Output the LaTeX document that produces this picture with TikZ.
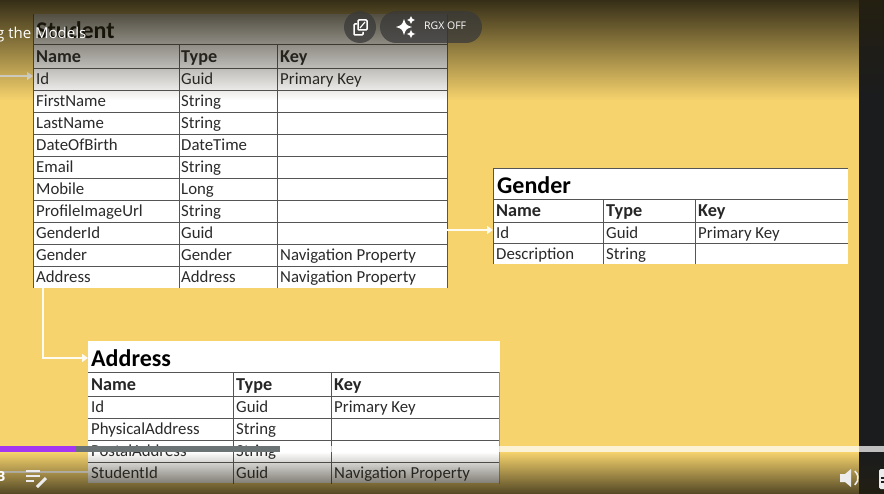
\documentclass[tikz,border=0pt]{standalone}
\usepackage{fontspec}
\setmainfont{Carlito}
\newfontfamily\playerfont{Open Sans}
\usetikzlibrary{arrows.meta,fadings,positioning}
\definecolor{slidebg}{HTML}{F6D36D}
\definecolor{gridline}{HTML}{555555}
\definecolor{celltext}{HTML}{2A2A2A}
\definecolor{sidebar}{HTML}{1B1C1E}
\definecolor{barpurple}{HTML}{A435F0}
\definecolor{bargray}{HTML}{6C7375}
\tikzfading[name=fadedown,top color=transparent!8,bottom color=transparent!100]
\tikzfading[name=fadeup,bottom color=transparent!22,top color=transparent!100]
\tikzset{
  tablebox/.style={fill=white,inner sep=0pt,anchor=north west},
  cell/.style={anchor=west,inner sep=0pt,text height=13pt,text depth=2pt,text=celltext,font=\fontsize{16.8}{17}\selectfont},
  headcell/.style={cell,text=black!85,font=\fontsize{18.2}{18}\selectfont\bfseries},
  titlecell/.style={anchor=west,inner sep=0pt,text=black,font=\fontsize{24}{24}\selectfont\bfseries},
  gridrule/.style={gridline,line width=1pt,yshift=-0.5pt},
  link/.style={white!92!slidebg,line width=2pt,-{Triangle[length=6pt,width=8pt]}},
  pill/.style={fill=black!55!gray,fill opacity=0.75,draw=none},
  glyph/.style={white,line width=1.5pt},
}
\begin{document}
\begin{tikzpicture}[x=1pt,y=-1pt]
  \useasboundingbox (0,0) rectangle (884,494);
  \fill[slidebg] (0,0) rectangle (884,494);
  \fill[sidebar] (859,0) rectangle (884,494);
  % student table
  \node[tablebox,minimum width=414pt,minimum height=274pt] (student) at (33,14) {};
  \foreach \y in {44,68,90,112,134,156,178,200,222,244,266}{\draw[gridrule] (33,\y)--(447,\y);}
  \foreach \x in {179,277}{\draw[gridrule] (\x,44)--(\x,288);}
  \draw[gridrule] (33,14)--(33,288);
  \draw[gridrule] (447,14)--(447,288);
  \node[titlecell] (stitle) at (36,30) {Student};
  \node[headcell] (sHName) at (36,57) {Name};
  \node[headcell] (sHType) at (181,57) {Type};
  \node[headcell] (sHKey) at (280,57) {Key};
  \foreach \y/\n/\t/\k in {79/Id/Guid/Primary Key,101/FirstName/String/,123/LastName/String/,
    145/DateOfBirth/DateTime/,167/Email/String/,189/Mobile/Long/,211/ProfileImageUrl/String/,
    233/GenderId/Guid/,255/Gender/Gender/Navigation Property,277/Address/Address/Navigation Property}{
    \node[cell] (s\n) at (36,\y) {\n};
    \node[cell] (s\n-t) at (181,\y) {\t};
    \node[cell] (s\n-k) at (280,\y) {\k};
  }
  % gender table
  \node[tablebox,minimum width=355pt,minimum height=96pt] (gender) at (493,168) {};
  \foreach \y in {168,199,222,243}{\draw[gridrule] (493,\y)--(848,\y);}
  \foreach \x in {603,695}{\draw[gridrule] (\x,199)--(\x,264);}
  \draw[gridrule] (493,168)--(493,264);
  \node[titlecell] (gtitle) at (497,185) {Gender};
  \node[headcell] (gHName) at (496,211) {Name};
  \node[headcell] (gHType) at (606,211) {Type};
  \node[headcell] (gHKey) at (698,211) {Key};
  \foreach \y/\n/\t/\k in {233/Id/Guid/Primary Key,254/Description/String/}{
    \node[cell] (g\n) at (496,\y) {\n};
    \node[cell] (g\n-t) at (606,\y) {\t};
    \node[cell] (g\n-k) at (698,\y) {\k};
  }
  % address table
  \node[tablebox,minimum width=412pt,minimum height=142pt] (address) at (88,341) {};
  \foreach \y in {372,396,418,440,462}{\draw[gridrule] (88,\y)--(500,\y);}
  \foreach \x in {233,331}{\draw[gridrule] (\x,372)--(\x,483);}
  \draw[gridrule,black!40] (499.5,372)--(499.5,483);
  \node[titlecell] (atitle) at (91,358) {Address};
  \node[headcell] (aHName) at (91,385) {Name};
  \node[headcell] (aHType) at (236,385) {Type};
  \node[headcell] (aHKey) at (334,385) {Key};
  \foreach \y/\n/\t/\k in {407/Id/Guid/Primary Key,429/PhysicalAddress/String/,
    451/PostalAddress/String/,473/StudentId/Guid/Navigation Property}{
    \node[cell] (a\n) at (91,\y) {\n};
    \node[cell] (a\n-t) at (236,\y) {\t};
    \node[cell] (a\n-k) at (334,\y) {\k};
  }
  % connectors
  \coordinate (idfrom) at (0,76);
  \coordinate (genderfrom) at (447,230);
  \coordinate (addressfrom) at (43,288);
  \coordinate (addressin) at (88,358);
  \coordinate (studentidfrom) at (0,472);
  \draw[link] (idfrom) -- (student.west |- idfrom);
  \draw[link] (student.east |- genderfrom) -- (gender.west |- genderfrom);
  \draw[link] (addressfrom) |- (address.west |- addressin);
  \draw[white!92!slidebg,line width=2pt] (studentidfrom) -- (address.west |- studentidfrom);
  % player overlay
  \fill[black!85!slidebg,path fading=fadedown] (0,0) rectangle (884,100);
  \fill[black!85!slidebg,path fading=fadeup] (0,452) rectangle (884,494);
  \fill[white,opacity=0.72] (0,446) rectangle (884,452);
  \fill[bargray] (0,446) rectangle (280,452);
  \fill[barpurple] (0,446) rectangle (76,452);
  \node[anchor=west,inner sep=0pt,text=white,font=\playerfont\fontsize{15}{15}\selectfont] (lesson) at (-4,35) {g the Models};
  \fill[pill] (360,27) circle (16pt);
  \fill[pill,rounded corners=16pt] (380,11) rectangle (482,43);
  \node[anchor=west,inner sep=0pt,text=white,font=\playerfont\fontsize{10.5}{11}\selectfont] (rgx) at (424,26) {RGX OFF};
  \draw[glyph,rounded corners=1pt] (357,24)--(354,24)--(354,35)--(363,35)--(363,32);
  \draw[glyph,rounded corners=1pt] (358,20) rectangle (367,30);
  \draw[white,line width=1.2pt] (360,28)--(365,22);
  \foreach \x/\y/\r/\s in {404/27/8/2,411/20/4/1,411/34/4.5/1}{
    \fill[white] (\x-\r,\y) .. controls (\x-\s,\y-\s) .. (\x,\y-\r) .. controls (\x+\s,\y-\s) .. (\x+\r,\y)
      .. controls (\x+\s,\y+\s) .. (\x,\y+\r) .. controls (\x-\s,\y+\s) .. cycle;
  }
  \node[anchor=west,inner sep=0pt,text=white,font=\playerfont\bfseries\fontsize{14}{14}\selectfont] (speed) at (-4,477) {B};
  \foreach \y/\w in {471/14,476/14,481/8}{\fill[white!85!gray] (26,\y-1) rectangle (26+\w,\y+1);}
  \draw[white!85!gray,line width=3pt] (37,487)--(46,478);
  \fill[white!85!gray] (840,474) -- (845,474) -- (851,469) -- (851,487) -- (845,482) -- (840,482) -- cycle;
  \draw[white!85!gray,line width=1.6pt] (854.8,484.9) arc[start angle=-50,end angle=50,radius=9pt];
  \fill[white!85!gray,rounded corners=1.5pt] (879,469) rectangle (890,489);
  \fill[sidebar] (881,477) rectangle (884,479);
  \fill[sidebar] (881,481) rectangle (884,483);
\end{tikzpicture}
\end{document}
